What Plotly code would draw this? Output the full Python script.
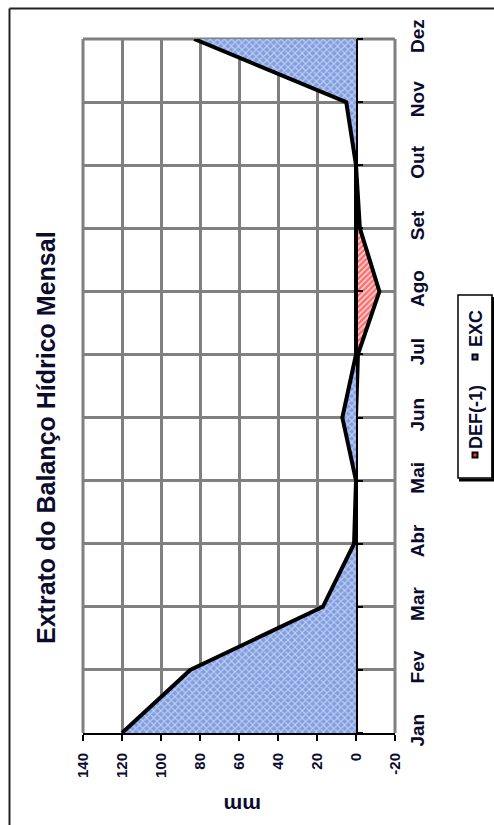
import plotly.graph_objects as go

# ---- data ----
months = ["Jan", "Fev", "Mar", "Abr", "Mai", "Jun", "Jul", "Ago", "Set", "Out", "Nov", "Dez"]
exc = [120, 85, 17, 1, 0, 7, 0, 0, 0, 0, 5, 83]
deficit = [0, 0, 0, 0, 0, 0, -1, -12, -2, 0, 0, 0]
value_ticks = [140, 120, 100, 80, 60, 40, 20, 0, -20]
series_names = ["DEF(-1)", "EXC"]
title_text = "Extrato do Balanço Hídrico Mensal"
axis_title = "mm"

# ---- layout geometry (pixels) ----
W, H = 494, 825
L, R, T, B = 83, 395, 39, 733


def px(x):
    return (x - L) / (R - L)


def py(y):
    return (B - y) / (B - T)


FONT = "Liberation Sans, Arial, sans-serif"
TXT = "#0b0b2e"
GRID = "#808080"

fig = go.Figure()

fig.add_trace(go.Scatter(
    x=deficit, y=months, mode="lines", fill="tozerox", name=series_names[0],
    line=dict(color="black", width=4),
    fillpattern=dict(shape="/", fgcolor="#ff0000", bgcolor="#ffd8d8", size=4, solidity=0.6),
    showlegend=False,
))
fig.add_trace(go.Scatter(
    x=exc, y=months, mode="lines", fill="tozerox", name=series_names[1],
    line=dict(color="black", width=4),
    fillpattern=dict(shape="x", fgcolor="#ffffff", bgcolor="#819ee0", size=5, solidity=0.4),
    showlegend=False,
))
# invisible trace to carry the tick marks on the zero line
fig.add_trace(go.Scatter(x=[0] * len(months), y=months, yaxis="y2", mode="lines",
                         line=dict(width=0), hoverinfo="skip", showlegend=False))

fig.update_layout(
    width=W, height=H,
    margin=dict(l=L, r=W - R, t=T, b=H - B, autoexpand=False),
    paper_bgcolor="white", plot_bgcolor="white",
    font=dict(family=FONT, color=TXT),
    xaxis=dict(
        range=[140, -20], tickvals=value_ticks, ticktext=[str(v) for v in value_ticks],
        tickangle=-90, tickfont=dict(size=15, weight="bold", color=TXT),
        showgrid=True, gridcolor=GRID, gridwidth=3,
        zeroline=True, zerolinecolor="black", zerolinewidth=3,
        showline=True, linecolor="black", linewidth=2,
        ticks="outside", ticklen=6, tickwidth=2, tickcolor="black",
        ticklabelstandoff=6, automargin=False, fixedrange=True,
    ),
    yaxis=dict(
        type="category", categoryorder="array", categoryarray=months,
        range=[0, 11], side="right",
        tickangle=-90, tickfont=dict(size=19, weight="bold", color=TXT),
        showgrid=True, gridcolor=GRID, gridwidth=3,
        showline=False, ticks="outside", ticklen=5, tickcolor="rgba(0,0,0,0)",
        automargin=False, fixedrange=True,
    ),
    yaxis2=dict(
        type="category", categoryorder="array", categoryarray=months,
        overlaying="y", matches="y", anchor="free", position=140 / 160, side="right",
        showgrid=False, showticklabels=False, showline=False,
        ticks="outside", ticklen=6, tickwidth=2, tickcolor="black",
        automargin=False, fixedrange=True,
    ),
)

shapes = []
# plot-area frame (gray) on left, top, right
shapes.append(dict(type="line", xref="paper", yref="paper", x0=0, x1=0, y0=0, y1=1,
                   line=dict(color=GRID, width=3), layer="below"))
shapes.append(dict(type="line", xref="paper", yref="paper", x0=0, x1=1, y0=1, y1=1,
                   line=dict(color=GRID, width=3), layer="below"))
shapes.append(dict(type="line", xref="paper", yref="paper", x0=1, x1=1, y0=0, y1=1,
                   line=dict(color=GRID, width=3), layer="below"))
# outer chart border
shapes.append(dict(type="line", xref="paper", yref="paper", x0=px(9.5), x1=px(9.5), y0=py(8.5), y1=py(840),
                   line=dict(color="#222", width=2)))
shapes.append(dict(type="line", xref="paper", yref="paper", x0=px(9.5), x1=px(510), y0=py(8.5), y1=py(8.5),
                   line=dict(color="#222", width=2)))
# legend box with shadow
shapes.append(dict(type="rect", xref="paper", yref="paper", x0=px(458), x1=px(492), y0=py(478), y1=py(295),
                   line=dict(color="black", width=1.5), fillcolor="white"))
shapes.append(dict(type="line", xref="paper", yref="paper", x0=px(459), x1=px(494), y0=py(480), y1=py(480),
                   line=dict(color="black", width=3)))
shapes.append(dict(type="line", xref="paper", yref="paper", x0=px(493), x1=px(493), y0=py(297), y1=py(481),
                   line=dict(color="black", width=3)))
# legend markers
for cy, col in [(455, "#ff3030"), (357, "#6688dd")]:
    shapes.append(dict(type="rect", xref="paper", yref="paper", x0=px(471.5), x1=px(478.5),
                       y0=py(cy + 3.5), y1=py(cy - 3.5), line=dict(width=0), fillcolor="black"))
    shapes.append(dict(type="rect", xref="paper", yref="paper", x0=px(473.5), x1=px(476.5),
                       y0=py(cy + 1.5), y1=py(cy - 1.5), line=dict(width=0), fillcolor=col))
fig.update_layout(shapes=shapes)

annotations = [
    dict(text=title_text, x=px(46), y=py(438), textangle=-90,
         font=dict(size=25, weight="bold", color=TXT)),
    dict(text=axis_title, x=px(243), y=py(806), textangle=180,
         font=dict(size=21, weight="bold", color=TXT)),
    dict(text=series_names[0], x=px(476), y=py(417), textangle=-90,
         font=dict(size=18, weight="bold", color=TXT)),
    dict(text=series_names[1], x=px(476), y=py(329), textangle=-90,
         font=dict(size=18, weight="bold", color=TXT)),
]
for a in annotations:
    a.update(xref="paper", yref="paper", xanchor="center", yanchor="middle", showarrow=False)
fig.update_layout(annotations=annotations)

fig.write_html("out.html")
